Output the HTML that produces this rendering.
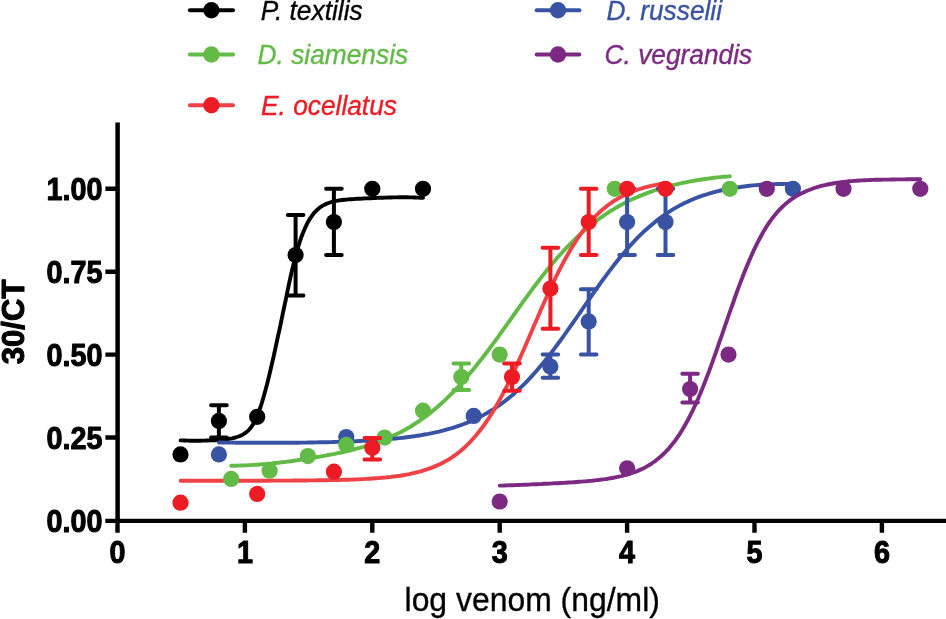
<!DOCTYPE html>
<html><head><meta charset="utf-8"><title>Venom clotting curves</title>
<style>
html,body{margin:0;padding:0;background:#fff;}
svg{display:block;}
text{font-family:"Liberation Sans",sans-serif;}
.b{font-weight:bold;font-size:31.1px;fill:#000;stroke:#000;stroke-width:1.05px;stroke-linejoin:round;}
.t{font-size:32.7px;fill:#000;stroke:#000;stroke-width:0.35px;}
.i{font-style:italic;font-size:26.7px;stroke-width:0.35px;}
</style></head><body>
<svg width="946" height="619" viewBox="0 0 946 619">
<rect width="946" height="619" fill="#fff"/>
<g id="legend">
<path d="M189.9 10.3H233.0" stroke="#000000" stroke-width="4" stroke-linecap="round"/><circle cx="211.4" cy="10.3" r="8.2" fill="#000000"/>
<text class="i" transform="translate(260.8 19.6) scale(0.985 1)" text-anchor="start" fill="#000000" stroke="#000000">P. textilis</text>
<path d="M189.9 54.5H233.0" stroke="#62bb46" stroke-width="4" stroke-linecap="round"/><circle cx="211.4" cy="54.5" r="8.2" fill="#62bb46"/>
<text class="i" transform="translate(257.6 63.8) scale(0.985 1)" text-anchor="start" fill="#62bb46" stroke="#62bb46">D. siamensis</text>
<path d="M189.9 105.2H233.0" stroke="#ef4247" stroke-width="4" stroke-linecap="round"/><circle cx="211.4" cy="105.2" r="8.2" fill="#ed1c24"/>
<text class="i" transform="translate(261.0 114.7) scale(0.985 1)" text-anchor="start" fill="#ed1c24" stroke="#ed1c24">E. ocellatus</text>
<path d="M536.7 10.3H579.4" stroke="#3953a4" stroke-width="4" stroke-linecap="round"/><circle cx="558.0" cy="10.3" r="8.2" fill="#3953a4"/>
<text class="i" transform="translate(606.6 19.6) scale(0.985 1)" text-anchor="start" fill="#3953a4" stroke="#3953a4">D. russelii</text>
<path d="M536.7 54.5H579.4" stroke="#7b2982" stroke-width="4" stroke-linecap="round"/><circle cx="558.0" cy="54.5" r="8.2" fill="#7b2982"/>
<text class="i" transform="translate(604.6 63.8) scale(0.985 1)" text-anchor="start" fill="#7b2982" stroke="#7b2982">C. vegrandis</text>
</g>
<g id="data">
<path d="M218.9 437.5V405.3M211.1 437.5h15.6M211.1 405.3h15.6M295.6 295.6V215.0M287.8 295.6h15.6M287.8 215.0h15.6M333.9 255.1V188.8M326.1 255.1h15.6M326.1 188.8h15.6" fill="none" stroke="#000000" stroke-width="4.0" stroke-linecap="round"/>
<g fill="#000000"><circle cx="180.5" cy="454.4" r="8.1"/><circle cx="218.9" cy="420.9" r="8.1"/><circle cx="257.2" cy="416.8" r="8.1"/><circle cx="295.6" cy="255.1" r="8.1"/><circle cx="333.9" cy="222.0" r="8.1"/><circle cx="372.3" cy="188.8" r="8.1"/><circle cx="423.0" cy="188.8" r="8.1"/></g>
<path d="M180.6 440.4 L182.1 440.4 L183.6 440.5 L185.1 440.5 L186.6 440.6 L188.2 440.6 L189.7 440.7 L191.2 440.7 L192.7 440.7 L194.3 440.7 L195.8 440.7 L197.3 440.7 L198.8 440.7 L200.4 440.7 L201.9 440.6 L203.4 440.6 L204.9 440.6 L206.5 440.5 L208.0 440.5 L209.5 440.4 L211.0 440.4 L212.6 440.3 L214.1 440.3 L215.6 440.2 L217.1 440.1 L218.7 440.0 L220.2 439.9 L221.7 439.8 L223.2 439.6 L224.8 439.5 L226.3 439.3 L227.8 439.1 L229.3 438.8 L230.9 438.6 L232.4 438.3 L233.9 437.9 L235.4 437.5 L237.0 437.0 L238.5 436.5 L240.0 435.9 L241.5 435.2 L243.1 434.4 L244.6 433.4 L246.1 432.4 L247.6 431.1 L249.2 429.6 L250.7 427.8 L252.2 425.7 L253.7 423.2 L255.3 420.3 L256.8 417.0 L258.3 413.2 L259.8 409.0 L261.4 404.3 L262.9 399.3 L264.4 394.0 L265.9 388.4 L267.5 382.5 L269.0 376.4 L270.5 370.0 L272.0 363.4 L273.6 356.6 L275.1 349.7 L276.6 342.7 L278.1 335.7 L279.7 328.6 L281.2 321.4 L282.7 314.2 L284.2 306.9 L285.8 299.6 L287.3 292.2 L288.8 284.9 L290.3 277.8 L291.9 271.0 L293.4 264.6 L294.9 258.5 L296.4 252.8 L298.0 247.5 L299.5 242.6 L301.0 238.1 L302.5 234.0 L304.1 230.2 L305.6 226.8 L307.1 223.7 L308.6 220.9 L310.2 218.4 L311.7 216.2 L313.2 214.1 L314.7 212.3 L316.3 210.7 L317.8 209.3 L319.3 208.0 L320.8 206.9 L322.4 205.9 L323.9 205.1 L325.4 204.3 L326.9 203.6 L328.5 203.0 L330.0 202.5 L331.5 202.0 L333.0 201.6 L334.6 201.3 L336.1 200.9 L337.6 200.7 L339.1 200.4 L340.7 200.2 L342.2 200.0 L343.7 199.8 L345.2 199.7 L346.8 199.6 L348.3 199.4 L349.8 199.3 L351.3 199.2 L352.9 199.1 L354.4 199.0 L355.9 198.9 L357.4 198.8 L359.0 198.7 L360.5 198.7 L362.0 198.6 L363.5 198.5 L365.1 198.4 L366.6 198.4 L368.1 198.3 L369.6 198.2 L371.2 198.2 L372.7 198.1 L374.2 198.0 L375.7 198.0 L377.3 197.9 L378.8 197.8 L380.3 197.8 L381.8 197.7 L383.4 197.7 L384.9 197.6 L386.4 197.6 L387.9 197.5 L389.5 197.5 L391.0 197.5 L392.5 197.4 L394.0 197.4 L395.6 197.4 L397.1 197.4 L398.6 197.3 L400.1 197.3 L401.7 197.3 L403.2 197.3 L404.7 197.3 L406.2 197.3 L407.8 197.3 L409.3 197.4 L410.8 197.4 L412.3 197.4 L413.9 197.5 L415.4 197.5 L416.9 197.6 L418.4 197.6 L420.0 197.7 L421.5 197.8 L423.0 197.8" fill="none" stroke="#000000" stroke-width="3.9" stroke-linecap="round" stroke-linejoin="round"/>
<path d="M231.2 465.8 L234.4 465.7 L237.5 465.6 L240.6 465.5 L243.8 465.4 L246.9 465.3 L250.1 465.1 L253.2 464.9 L256.3 464.7 L259.5 464.5 L262.6 464.2 L265.7 464.0 L268.9 463.7 L272.0 463.4 L275.1 463.0 L278.3 462.7 L281.4 462.3 L284.5 462.0 L287.7 461.6 L290.8 461.2 L294.0 460.7 L297.1 460.3 L300.2 459.8 L303.4 459.4 L306.5 458.9 L309.6 458.4 L312.8 457.9 L315.9 457.3 L319.0 456.8 L322.2 456.2 L325.3 455.6 L328.4 455.0 L331.6 454.4 L334.7 453.8 L337.8 453.1 L341.0 452.5 L344.1 451.8 L347.3 451.1 L350.4 450.3 L353.5 449.5 L356.7 448.7 L359.8 447.9 L362.9 447.0 L366.1 446.1 L369.2 445.1 L372.3 444.1 L375.5 443.0 L378.6 441.9 L381.7 440.7 L384.9 439.5 L388.0 438.1 L391.2 436.8 L394.3 435.3 L397.4 433.8 L400.6 432.2 L403.7 430.6 L406.8 428.8 L410.0 427.0 L413.1 425.0 L416.2 423.0 L419.4 420.9 L422.5 418.7 L425.6 416.4 L428.8 414.0 L431.9 411.6 L435.0 409.0 L438.2 406.3 L441.3 403.5 L444.5 400.6 L447.6 397.6 L450.7 394.5 L453.9 391.3 L457.0 388.0 L460.1 384.6 L463.3 381.1 L466.4 377.5 L469.5 373.8 L472.7 370.1 L475.8 366.2 L478.9 362.3 L482.1 358.3 L485.2 354.2 L488.4 350.0 L491.5 345.8 L494.6 341.6 L497.8 337.3 L500.9 332.9 L504.0 328.6 L507.2 324.2 L510.3 319.8 L513.4 315.4 L516.6 311.0 L519.7 306.6 L522.8 302.2 L526.0 297.9 L529.1 293.6 L532.2 289.3 L535.4 285.1 L538.5 281.0 L541.7 276.9 L544.8 272.9 L547.9 269.0 L551.1 265.2 L554.2 261.5 L557.3 257.8 L560.5 254.3 L563.6 250.9 L566.7 247.5 L569.9 244.3 L573.0 241.1 L576.1 238.1 L579.3 235.1 L582.4 232.3 L585.6 229.6 L588.7 226.9 L591.8 224.4 L595.0 221.9 L598.1 219.6 L601.2 217.3 L604.4 215.1 L607.5 213.0 L610.6 211.0 L613.8 209.1 L616.9 207.2 L620.0 205.5 L623.2 203.8 L626.3 202.1 L629.4 200.6 L632.6 199.1 L635.7 197.7 L638.9 196.4 L642.0 195.1 L645.1 193.9 L648.3 192.7 L651.4 191.6 L654.5 190.5 L657.7 189.5 L660.8 188.5 L663.9 187.6 L667.1 186.7 L670.2 185.9 L673.3 185.1 L676.5 184.4 L679.6 183.6 L682.8 182.9 L685.9 182.3 L689.0 181.7 L692.2 181.1 L695.3 180.5 L698.4 180.0 L701.6 179.5 L704.7 179.0 L707.8 178.6 L711.0 178.2 L714.1 177.8 L717.2 177.4 L720.4 177.1 L723.5 176.8 L726.6 176.6 L729.8 176.3" fill="none" stroke="#62bb46" stroke-width="3.9" stroke-linecap="round" stroke-linejoin="round"/>
<path d="M550.4 377.8V354.6M542.6 377.8h15.6M542.6 354.6h15.6M588.7 354.6V289.3M580.9 354.6h15.6M580.9 289.3h15.6M627.1 255.1V188.8M619.3 255.1h15.6M619.3 188.8h15.6M665.5 255.1V188.8M657.7 255.1h15.6M657.7 188.8h15.6" fill="none" stroke="#3953a4" stroke-width="4.0" stroke-linecap="round"/>
<g fill="#3953a4"><circle cx="218.9" cy="454.4" r="8.1"/><circle cx="346.3" cy="437.0" r="8.1"/><circle cx="473.7" cy="415.9" r="8.1"/><circle cx="550.4" cy="366.5" r="8.1"/><circle cx="588.7" cy="321.4" r="8.1"/><circle cx="627.1" cy="222.0" r="8.1"/><circle cx="665.5" cy="222.0" r="8.1"/><circle cx="792.9" cy="188.8" r="8.1"/></g>
<path d="M218.9 442.5 L222.5 442.5 L226.1 442.6 L229.7 442.6 L233.3 442.6 L236.9 442.7 L240.6 442.7 L244.2 442.7 L247.8 442.8 L251.4 442.8 L255.0 442.8 L258.6 442.8 L262.2 442.8 L265.8 442.8 L269.4 442.8 L273.0 442.8 L276.7 442.8 L280.3 442.8 L283.9 442.8 L287.5 442.8 L291.1 442.7 L294.7 442.7 L298.3 442.7 L301.9 442.6 L305.5 442.6 L309.1 442.5 L312.8 442.5 L316.4 442.4 L320.0 442.3 L323.6 442.3 L327.2 442.2 L330.8 442.1 L334.4 442.0 L338.0 441.9 L341.6 441.8 L345.2 441.6 L348.8 441.5 L352.5 441.4 L356.1 441.2 L359.7 441.0 L363.3 440.9 L366.9 440.7 L370.5 440.4 L374.1 440.2 L377.7 440.0 L381.3 439.7 L384.9 439.4 L388.6 439.1 L392.2 438.8 L395.8 438.5 L399.4 438.1 L403.0 437.7 L406.6 437.2 L410.2 436.8 L413.8 436.3 L417.4 435.7 L421.0 435.2 L424.7 434.5 L428.3 433.9 L431.9 433.2 L435.5 432.4 L439.1 431.6 L442.7 430.7 L446.3 429.7 L449.9 428.7 L453.5 427.6 L457.1 426.4 L460.8 425.2 L464.4 423.8 L468.0 422.4 L471.6 420.9 L475.2 419.2 L478.8 417.5 L482.4 415.6 L486.0 413.6 L489.6 411.5 L493.2 409.3 L496.8 406.9 L500.5 404.4 L504.1 401.7 L507.7 398.9 L511.3 396.0 L514.9 392.9 L518.5 389.6 L522.1 386.2 L525.7 382.6 L529.3 378.8 L532.9 374.9 L536.6 370.8 L540.2 366.6 L543.8 362.3 L547.4 357.8 L551.0 353.1 L554.6 348.4 L558.2 343.5 L561.8 338.6 L565.4 333.5 L569.0 328.4 L572.7 323.2 L576.3 318.0 L579.9 312.8 L583.5 307.5 L587.1 302.3 L590.7 297.1 L594.3 291.9 L597.9 286.8 L601.5 281.7 L605.1 276.8 L608.8 271.9 L612.4 267.1 L616.0 262.5 L619.6 258.0 L623.2 253.7 L626.8 249.4 L630.4 245.4 L634.0 241.5 L637.6 237.7 L641.2 234.1 L644.8 230.7 L648.5 227.5 L652.1 224.4 L655.7 221.4 L659.3 218.6 L662.9 216.0 L666.5 213.5 L670.1 211.1 L673.7 208.9 L677.3 206.9 L680.9 204.9 L684.6 203.1 L688.2 201.4 L691.8 199.8 L695.4 198.3 L699.0 196.9 L702.6 195.7 L706.2 194.5 L709.8 193.4 L713.4 192.3 L717.0 191.4 L720.7 190.5 L724.3 189.7 L727.9 189.0 L731.5 188.3 L735.1 187.7 L738.7 187.2 L742.3 186.7 L745.9 186.2 L749.5 185.8 L753.1 185.4 L756.7 185.1 L760.4 184.8 L764.0 184.6 L767.6 184.4 L771.2 184.3 L774.8 184.1 L778.4 184.0 L782.0 184.0 L785.6 183.9 L789.2 183.9 L792.8 183.9" fill="none" stroke="#3953a4" stroke-width="3.9" stroke-linecap="round" stroke-linejoin="round"/>
<path d="M180.6 480.7 L183.6 480.7 L186.6 480.7 L189.7 480.7 L192.7 480.7 L195.8 480.7 L198.8 480.7 L201.9 480.7 L204.9 480.7 L208.0 480.7 L211.0 480.7 L214.1 480.7 L217.1 480.7 L220.2 480.7 L223.2 480.7 L226.3 480.7 L229.3 480.7 L232.4 480.7 L235.4 480.7 L238.5 480.7 L241.5 480.7 L244.6 480.7 L247.6 480.7 L250.7 480.7 L253.7 480.7 L256.8 480.7 L259.8 480.7 L262.9 480.7 L265.9 480.7 L269.0 480.7 L272.0 480.6 L275.1 480.6 L278.1 480.6 L281.2 480.6 L284.2 480.6 L287.3 480.6 L290.3 480.6 L293.4 480.5 L296.4 480.5 L299.5 480.5 L302.5 480.5 L305.6 480.5 L308.6 480.4 L311.7 480.4 L314.7 480.4 L317.8 480.3 L320.8 480.3 L323.9 480.2 L326.9 480.2 L330.0 480.1 L333.0 480.1 L336.1 480.0 L339.1 480.0 L342.2 479.9 L345.2 479.8 L348.3 479.7 L351.3 479.6 L354.4 479.5 L357.4 479.4 L360.5 479.2 L363.5 479.1 L366.6 478.9 L369.6 478.7 L372.7 478.5 L375.7 478.3 L378.8 478.1 L381.8 477.8 L384.9 477.6 L387.9 477.2 L391.0 476.9 L394.0 476.5 L397.1 476.1 L400.1 475.7 L403.2 475.2 L406.2 474.7 L409.3 474.1 L412.3 473.4 L415.4 472.7 L418.4 472.0 L421.5 471.1 L424.5 470.2 L427.6 469.2 L430.6 468.1 L433.7 466.9 L436.7 465.6 L439.8 464.2 L442.8 462.7 L445.9 461.1 L448.9 459.3 L452.0 457.3 L455.0 455.2 L458.1 452.9 L461.1 450.4 L464.2 447.8 L467.2 444.9 L470.3 441.8 L473.3 438.5 L476.4 435.0 L479.4 431.3 L482.5 427.2 L485.5 423.0 L488.6 418.5 L491.6 413.7 L494.7 408.7 L497.7 403.4 L500.8 397.8 L503.8 392.1 L506.9 386.1 L509.9 379.9 L513.0 373.5 L516.0 366.9 L519.1 360.1 L522.1 353.3 L525.2 346.3 L528.2 339.2 L531.3 332.1 L534.3 325.0 L537.4 318.0 L540.4 310.9 L543.5 304.0 L546.5 297.1 L549.6 290.4 L552.6 283.9 L555.7 277.5 L558.7 271.4 L561.8 265.4 L564.8 259.7 L567.9 254.3 L570.9 249.0 L574.0 244.1 L577.0 239.4 L580.1 234.9 L583.1 230.7 L586.2 226.8 L589.2 223.1 L592.3 219.6 L595.3 216.4 L598.4 213.3 L601.4 210.5 L604.5 207.9 L607.5 205.5 L610.6 203.3 L613.6 201.2 L616.7 199.3 L619.7 197.5 L622.8 195.9 L625.8 194.4 L628.9 193.0 L631.9 191.8 L635.0 190.6 L638.0 189.5 L641.1 188.6 L644.1 187.7 L647.1 186.9 L650.2 186.1 L653.2 185.4 L656.3 184.8 L659.3 184.2 L662.4 183.7 L665.4 183.2" fill="none" stroke="#ef4247" stroke-width="3.9" stroke-linecap="round" stroke-linejoin="round"/>
<path d="M461.3 390.1V363.6M453.5 390.1h15.6M453.5 363.6h15.6" fill="none" stroke="#62bb46" stroke-width="4.0" stroke-linecap="round"/>
<g fill="#62bb46"><circle cx="231.2" cy="478.9" r="8.1"/><circle cx="269.6" cy="470.7" r="8.1"/><circle cx="307.9" cy="456.1" r="8.1"/><circle cx="346.3" cy="444.9" r="8.1"/><circle cx="384.6" cy="437.6" r="8.1"/><circle cx="423.0" cy="410.7" r="8.1"/><circle cx="461.3" cy="377.1" r="8.1"/><circle cx="499.7" cy="354.6" r="8.1"/><circle cx="614.8" cy="188.8" r="8.1"/><circle cx="729.8" cy="188.8" r="8.1"/></g>
<path d="M372.3 459.5V437.9M364.5 459.5h15.6M364.5 437.9h15.6M512.0 390.7V363.6M504.2 390.7h15.6M504.2 363.6h15.6M550.4 328.7V247.8M542.6 328.7h15.6M542.6 247.8h15.6M588.7 255.1V188.8M580.9 255.1h15.6M580.9 188.8h15.6" fill="none" stroke="#ed1c24" stroke-width="4.0" stroke-linecap="round"/>
<g fill="#ed1c24"><circle cx="180.5" cy="502.7" r="8.1"/><circle cx="257.2" cy="493.9" r="8.1"/><circle cx="333.9" cy="471.7" r="8.1"/><circle cx="372.3" cy="447.8" r="8.1"/><circle cx="512.0" cy="377.0" r="8.1"/><circle cx="550.4" cy="288.6" r="8.1"/><circle cx="588.7" cy="222.0" r="8.1"/><circle cx="627.1" cy="188.8" r="8.1"/><circle cx="665.5" cy="188.8" r="8.1"/></g>
<path d="M690.1 402.4V373.8M682.3 402.4h15.6M682.3 373.8h15.6" fill="none" stroke="#7b2982" stroke-width="4.0" stroke-linecap="round"/>
<g fill="#7b2982"><circle cx="499.7" cy="501.5" r="8.1"/><circle cx="627.1" cy="468.3" r="8.1"/><circle cx="690.1" cy="389.1" r="8.1"/><circle cx="728.5" cy="354.6" r="8.1"/><circle cx="766.8" cy="188.8" r="8.1"/><circle cx="843.5" cy="188.8" r="8.1"/><circle cx="920.3" cy="188.8" r="8.1"/></g>
<path d="M499.7 485.6 L502.3 485.6 L505.0 485.5 L507.6 485.4 L510.3 485.3 L512.9 485.2 L515.6 485.1 L518.2 485.0 L520.9 484.9 L523.5 484.8 L526.1 484.7 L528.8 484.6 L531.4 484.4 L534.1 484.3 L536.7 484.2 L539.4 484.1 L542.0 484.0 L544.7 483.8 L547.3 483.7 L550.0 483.6 L552.6 483.4 L555.2 483.3 L557.9 483.2 L560.5 483.0 L563.2 482.9 L565.8 482.7 L568.5 482.5 L571.1 482.4 L573.8 482.2 L576.4 482.0 L579.0 481.8 L581.7 481.6 L584.3 481.4 L587.0 481.2 L589.6 480.9 L592.3 480.7 L594.9 480.4 L597.6 480.1 L600.2 479.8 L602.9 479.4 L605.5 479.1 L608.1 478.7 L610.8 478.2 L613.4 477.8 L616.1 477.2 L618.7 476.7 L621.4 476.1 L624.0 475.4 L626.7 474.7 L629.3 473.9 L631.9 473.0 L634.6 472.1 L637.2 471.1 L639.9 469.9 L642.5 468.7 L645.2 467.4 L647.8 465.9 L650.5 464.3 L653.1 462.5 L655.8 460.6 L658.4 458.5 L661.0 456.3 L663.7 453.8 L666.3 451.1 L669.0 448.3 L671.6 445.1 L674.3 441.8 L676.9 438.1 L679.6 434.2 L682.2 430.0 L684.8 425.5 L687.5 420.8 L690.1 415.7 L692.8 410.3 L695.4 404.7 L698.1 398.7 L700.7 392.5 L703.4 386.0 L706.0 379.2 L708.7 372.3 L711.3 365.1 L713.9 357.8 L716.6 350.3 L719.2 342.7 L721.9 335.1 L724.5 327.4 L727.2 319.7 L729.8 312.0 L732.5 304.5 L735.1 297.0 L737.7 289.7 L740.4 282.6 L743.0 275.7 L745.7 269.1 L748.3 262.7 L751.0 256.5 L753.6 250.7 L756.3 245.2 L758.9 240.0 L761.6 235.0 L764.2 230.4 L766.8 226.1 L769.5 222.2 L772.1 218.5 L774.8 215.1 L777.4 211.9 L780.1 209.1 L782.7 206.5 L785.4 204.1 L788.0 201.9 L790.6 199.9 L793.3 198.1 L795.9 196.4 L798.6 194.9 L801.2 193.5 L803.9 192.2 L806.5 191.0 L809.2 190.0 L811.8 189.0 L814.4 188.0 L817.1 187.2 L819.7 186.4 L822.4 185.7 L825.0 185.1 L827.7 184.5 L830.3 184.0 L833.0 183.5 L835.6 183.0 L838.3 182.6 L840.9 182.2 L843.5 181.9 L846.2 181.6 L848.8 181.3 L851.5 181.1 L854.1 180.9 L856.8 180.7 L859.4 180.5 L862.1 180.4 L864.7 180.2 L867.3 180.1 L870.0 180.0 L872.6 179.9 L875.3 179.8 L877.9 179.8 L880.6 179.7 L883.2 179.6 L885.9 179.6 L888.5 179.6 L891.2 179.5 L893.8 179.5 L896.4 179.4 L899.1 179.4 L901.7 179.4 L904.4 179.4 L907.0 179.3 L909.7 179.3 L912.3 179.3 L915.0 179.2 L917.6 179.2 L920.2 179.2" fill="none" stroke="#7b2982" stroke-width="3.9" stroke-linecap="round" stroke-linejoin="round"/>
</g>
<g id="axes">
<path d="M117.6 122.5V522.9" fill="none" stroke="#000" stroke-width="4.5"/>
<path d="M105.3 520.8H946" fill="none" stroke="#000" stroke-width="4.35"/>
<path d="M105.4 437.5H117.5M105.4 354.6H117.5M105.4 271.7H117.5M105.4 188.8H117.5M117.5 520.4V532.7M244.9 520.4V532.7M372.3 520.4V532.7M499.7 520.4V532.7M627.1 520.4V532.7M754.5 520.4V532.7M881.9 520.4V532.7" fill="none" stroke="#000" stroke-width="4.4"/>
</g>
<g id="labels">
<text class="b" transform="translate(102.4 532.4) scale(0.925 1)" text-anchor="end">0.00</text>
<text class="b" transform="translate(102.4 449.1) scale(0.925 1)" text-anchor="end">0.25</text>
<text class="b" transform="translate(102.4 366.2) scale(0.925 1)" text-anchor="end">0.50</text>
<text class="b" transform="translate(102.4 283.1) scale(0.925 1)" text-anchor="end">0.75</text>
<text class="b" transform="translate(102.4 199.9) scale(0.925 1)" text-anchor="end">1.00</text>
<text class="b" transform="translate(117.5 563.2) scale(0.925 1)" text-anchor="middle">0</text>
<text class="b" transform="translate(244.9 563.2) scale(0.925 1)" text-anchor="middle">1</text>
<text class="b" transform="translate(372.3 563.2) scale(0.925 1)" text-anchor="middle">2</text>
<text class="b" transform="translate(499.7 563.2) scale(0.925 1)" text-anchor="middle">3</text>
<text class="b" transform="translate(627.1 563.2) scale(0.925 1)" text-anchor="middle">4</text>
<text class="b" transform="translate(754.5 563.2) scale(0.925 1)" text-anchor="middle">5</text>
<text class="b" transform="translate(881.9 563.2) scale(0.925 1)" text-anchor="middle">6</text>
<text class="b" transform="translate(23.7 321.9) rotate(-90) scale(1.0 1)" text-anchor="middle">30/CT</text>
<text class="t" transform="translate(532.2 610.9) scale(0.976 1)" text-anchor="middle">log venom (ng/ml)</text>
</g>
</svg>
</body></html>
